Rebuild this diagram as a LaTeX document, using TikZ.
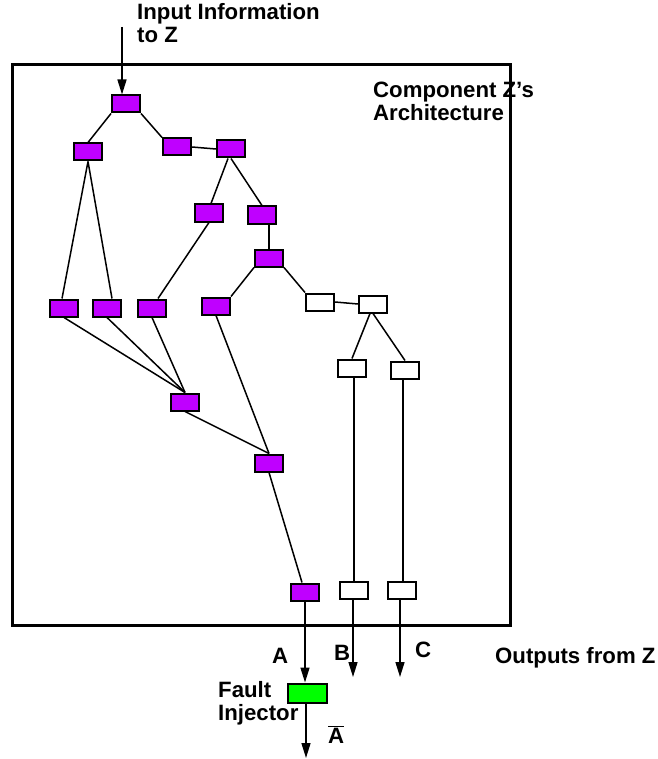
\documentclass[tikz,border=0pt]{standalone}
\usepackage{fontspec}
\setmainfont{Liberation Sans}
\usetikzlibrary{arrows.meta}
\definecolor{comppurple}{RGB}{191,0,255}
\definecolor{injgreen}{RGB}{0,255,0}
\tikzset{
  comp/.style={draw=black, line width=2pt, fill=comppurple, minimum width=28pt, minimum height=17pt, inner sep=0pt},
  idle/.style={draw=black, line width=2pt, fill=white, minimum width=28pt, minimum height=17pt, inner sep=0pt},
  injector/.style={draw=black, line width=2pt, fill=injgreen, minimum width=39pt, minimum height=19pt, inner sep=0pt},
  link/.style={line width=1.5pt},
  flow/.style={line width=1.5pt, -{Triangle[length=15pt,width=9pt]}},
  lbl/.style={font=\fontsize{22.2}{23}\selectfont\bfseries, inner sep=0pt, align=left},
}
\begin{document}
\begin{tikzpicture}[x=1pt,y=-1pt]
\useasboundingbox (0,0) rectangle (657,759);
% frame
\node[draw=black, line width=3pt, minimum width=498pt, minimum height=560pt, inner sep=0pt] (frame) at (261,345) {};
% texts (base anchor = baseline of the last line)
\node[lbl, anchor=base west] (tin) at (137,43) {Input Information\\to Z};
\node[lbl, anchor=base west] (tcomp) at (373,121) {Component Z's\\Architecture};
\node[lbl, anchor=base west] (tout) at (495,663) {Outputs from Z};
\node[lbl, anchor=base west] (tA) at (272,663) {A};
\node[lbl, anchor=base west] (tB) at (334,660) {B};
\node[lbl, anchor=base west] (tC) at (415,657) {C};
\node[lbl, anchor=base west] (tfi) at (218,720) {Fault\\Injector};
\node[lbl, anchor=base west] (tAbar) at (328,743) {$\overline{\mbox{A}}$};
% components
\node[comp] (top) at (126,104) {};
\node[comp] (L1) at (88,152) {};
\node[comp] (m1) at (177,147) {};
\node[comp] (m2) at (231,149) {};
\node[comp] (a2) at (209,213) {};
\node[comp] (b2) at (262,215) {};
\node[comp] (M) at (269,258) {};
\node[comp] (d3) at (216,306) {};
\node[idle] (W1) at (320,302) {};
\node[idle] (W2) at (373,304) {};
\node[idle] (W3) at (352,368) {};
\node[idle] (W4) at (405,370) {};
\node[comp] (L3a) at (64,308) {};
\node[comp] (L3b) at (107,308) {};
\node[comp] (L3c) at (152,308) {};
\node[comp] (N) at (185,402) {};
\node[comp] (P) at (269,463) {};
\node[comp] (Q) at (305,592) {};
\node[idle] (W5) at (354,590) {};
\node[idle] (W6) at (402,590) {};
\node[injector] (G) at (307,693) {};
% links
\draw[link] (top.south west) -- (L1.north);
\draw[link] (top.south east) -- (m1.north west);
\draw[link] (m1.east) -- (m2.west);
\draw[link] ([xshift=-3pt]m2.south) -- ([xshift=2pt]a2.north);
\draw[link] (m2.south) -- (b2.north);
\draw[link] (L1.south) -- ([xshift=-2pt]L3a.north);
\draw[link] (L1.south) -- ([xshift=5pt]L3b.north);
\draw[link] (a2.south) -- ([xshift=6pt]L3c.north);
\draw[link] (M.north) -- (M.north |- b2.south);
\draw[link] (M.south west) -- (d3.north east);
\draw[link] (M.south east) -- (W1.north west);
\draw[link] (W1.east) -- (W2.west);
\draw[link] ([xshift=-3pt]W2.south) -- (W3.north);
\draw[link] (W2.south) -- (W4.north);
\draw[link] (W5.north |- W3.south) -- (W5.north);
\draw[link] ([xshift=1pt]W6.north |- W4.south) -- ([xshift=1pt]W6.north);
\draw[link] (L3a.south) -- (N.north);
\draw[link] (L3b.south) -- (N.north);
\draw[link] (L3c.south) -- (N.north);
\draw[link] (N.south) -- (P.north);
\draw[link] (d3.south) -- (P.north);
\draw[link] (P.south) -- ([xshift=-3pt]Q.north);
% flows
\coordinate (in0) at (122,27);
\coordinate (outB) at (353,677);
\coordinate (outC) at (400,677);
\coordinate (outAbar) at (306,758);
\draw[flow] (in0) -- (in0 |- top.north);
\draw[flow] (Q.south) -- (Q.south |- G.north);
\draw[flow] ([xshift=-1pt]W5.south) -- (outB);
\draw[flow] ([xshift=-2pt]W6.south) -- (outC);
\draw[flow] (G.south -| outAbar) -- (outAbar);
\end{tikzpicture}
\end{document}
